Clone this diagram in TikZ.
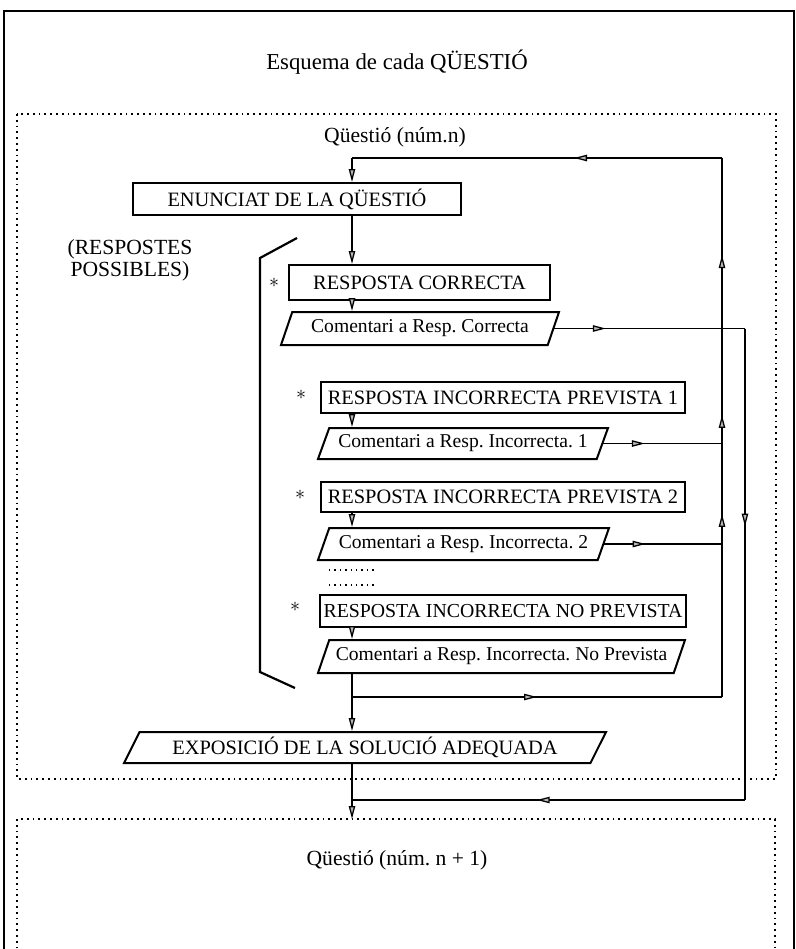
\documentclass[tikz,border=0pt]{standalone}
\usepackage{fontspec}
\setmainfont{Liberation Serif}
\usepackage{tikz}
\usetikzlibrary{positioning, arrows.meta, shapes.geometric, decorations.markings}

\tikzset{Tri/.tip={Triangle[length=6.5pt, width=3.2pt, fill=gray!55]}}
\frenchspacing

\begin{document}
\begin{tikzpicture}[
  x=0.5pt, y=-0.5pt,
  font=\fontsize{9.8}{11}\selectfont,
  caja/.style={draw, line width=1pt, inner sep=1pt, font=\fontsize{10.2}{11}\selectfont},
  com/.style={draw, line width=1pt, trapezium, trapezium left angle=62, trapezium right angle=118, trapezium stretches body, inner sep=1pt},
  marc/.style={dotted, line width=0.9pt},
  conn/.style={line width=0.65pt},
  flow/.style={-Tri, line width=0.65pt},
  midtip/.style={postaction={decorate, decoration={markings, mark=at position #1 with {\arrow{Tri}}}}},
  ast/.style={font=\fontsize{10}{10}\selectfont}
]
\useasboundingbox (0,0) rectangle (796,949);
\clip (0,0) rectangle (796,949);
% --- marc exterior ---
\draw[line width=1.1pt] (4,960) -- (4,11) -- (794,11) -- (794,960);
\node[font=\fontsize{11.4}{13}\selectfont] (title) at (397,62) {Esquema de cada QÜESTIÓ};
% --- questio n ---
\draw[marc] (17,114) rectangle (776,779);
\node[font=\fontsize{10.8}{12}\selectfont] (q1) at (395,137) {Qüestió (núm.n)};
\node[caja, minimum width=164pt, minimum height=16pt] (enun) at (297,199) {ENUNCIAT DE LA QÜESTIÓ};
\node[align=center, font=\fontsize{10.8}{11}\selectfont] (poss) at (130,260) {(RESPOSTES\\POSSIBLES)};
\draw[line width=1.1pt] (297,238) -- (260,258) -- (260,672) -- (295,688);
\node[ast] (a1) at (274,283) {$\ast$};
\node[caja, minimum width=130.5pt, minimum height=17.5pt] (rc) at (419.5,282.5) {RESPOSTA CORRECTA};
\node[com, minimum width=139pt, minimum height=16.5pt] (comc) at (420,328.5) {Comentari a Resp. Correcta};
\node[ast] (a2) at (301,395) {$\ast$};
\node[caja, minimum width=182pt, minimum height=15.5pt] (rip1) at (503,397.5) {RESPOSTA INCORRECTA PREVISTA 1};
\node[com, minimum width=145pt, minimum height=15.5pt] (com1) at (463,443.5) {Comentari a Resp. Incorrecta. 1};
\node[ast] (a3) at (300,495) {$\ast$};
\node[caja, minimum width=182pt, minimum height=15pt] (rip2) at (503,497) {RESPOSTA INCORRECTA PREVISTA 2};
\node[com, minimum width=145.5pt, minimum height=16pt] (com2) at (463.5,544) {Comentari a Resp. Incorrecta. 2};
\draw[dotted, line width=0.7pt] (329,570) -- (377,570);
\draw[dotted, line width=0.7pt] (329,585) -- (377,585);
\node[ast] (a4) at (295,607) {$\ast$};
\node[caja, minimum width=183pt, minimum height=16pt, font=\fontsize{9.9}{11}\selectfont] (rinp) at (503,611) {RESPOSTA INCORRECTA NO PREVISTA};
\node[com, minimum width=183.5pt, minimum height=16.5pt] (comnp) at (501.5,656.5) {Comentari a Resp. Incorrecta. No Prevista};
\node[com, minimum width=241pt, minimum height=15.5pt, trapezium left angle=58, trapezium right angle=122, font=\fontsize{10.2}{11}\selectfont] (expos) at (365,747.5) {EXPOSICIÓ DE LA SOLUCIÓ ADEQUADA};
% --- questio n+1 ---
\draw[marc] (17,960) -- (17,819) -- (775,819) -- (775,960);
\node[font=\fontsize{10.8}{12}\selectfont] (q2) at (397,860) {Qüestió (núm. n + 1)};
% --- punts de pas ---
\coordinate (spine) at (352,0);
\coordinate (rA) at (722,158);
\coordinate (rB) at (745,800);
\coordinate (jNP) at (352,697);
\coordinate (jRet) at (352,800);
\coordinate (q2top) at (352,819);
% --- fletxes verticals ---
\draw[flow] (enun.south -| spine) -- (rc.north -| spine);
\draw[flow] (rc.south -| spine) -- (comc.north -| spine);
\draw[flow] (rip1.south -| spine) -- (com1.north -| spine);
\draw[flow] (rip2.south -| spine) -- (com2.north -| spine);
\draw[flow] (rinp.south -| spine) -- (comnp.north -| spine);
\draw[flow] (comnp.south -| spine) -- (expos.north -| spine);
\draw[flow] (expos.south -| spine) -- (q2top);
% --- retorn a l'enunciat ---
\draw[conn, midtip=0.5] (jNP) -- (jNP -| rA);
\draw[conn] (jNP -| rA) -- (com2.east -| rA);
\draw[conn, midtip=0.3] (com2.east -| rA) -- (com1.east -| rA);
\draw[conn, midtip=0.1, midtip=0.66] (com1.east -| rA) -- (rA);
\draw[conn, midtip=0.4] (rA) -- (rA -| spine);
\draw[flow] (rA -| spine) -- (enun.north -| spine);
\draw[conn, midtip=0.35] (com1.east) -- (com1.east -| rA);
\draw[conn, midtip=0.35] (com2.east) -- (com2.east -| rA);
% --- pas a la questio seguent ---
\draw[conn, midtip=0.27] (comc.east) -- (comc.east -| rB);
\draw[conn, midtip=0.42] (comc.east -| rB) -- (rB);
\draw[conn, midtip=0.53] (rB) -- (jRet);
\end{tikzpicture}
\end{document}
